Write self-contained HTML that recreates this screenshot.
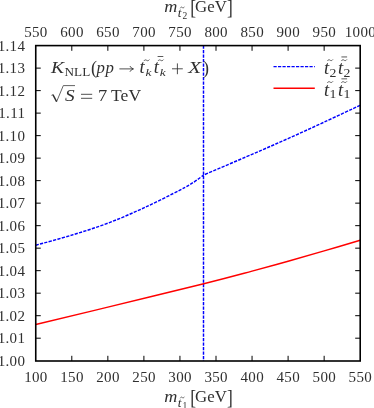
<!DOCTYPE html>
<html><head><meta charset="utf-8"><title>plot</title>
<style>
html,body{margin:0;padding:0;background:#fff;}
body{width:374px;height:408px;overflow:hidden;font-family:"Liberation Serif",serif;}
svg{display:block;will-change:transform;}
text{font-family:"Liberation Serif",serif;fill:#303030;}
.tk{font-size:15px;letter-spacing:0.35px;}
.it{font-style:italic;}
</style></head><body>
<svg width="374" height="408" viewBox="0 0 374 408">
<rect width="374" height="408" fill="#fff"/>

<path d="M71.80,361.0 v-5.2 M71.80,45.6 v5.2 M107.85,361.0 v-5.2 M107.85,45.6 v5.2 M143.90,361.0 v-5.2 M143.90,45.6 v5.2 M179.95,361.0 v-5.2 M179.95,45.6 v5.2 M216.00,361.0 v-5.2 M216.00,45.6 v5.2 M252.05,361.0 v-5.2 M252.05,45.6 v5.2 M288.10,361.0 v-5.2 M288.10,45.6 v5.2 M324.15,361.0 v-5.2 M324.15,45.6 v5.2 M35.75,338.19 h5 M360.2,338.19 h-5 M35.75,315.69 h5 M360.2,315.69 h-5 M35.75,293.18 h5 M360.2,293.18 h-5 M35.75,270.67 h5 M360.2,270.67 h-5 M35.75,248.16 h5 M360.2,248.16 h-5 M35.75,225.66 h5 M360.2,225.66 h-5 M35.75,203.15 h5 M360.2,203.15 h-5 M35.75,180.64 h5 M360.2,180.64 h-5 M35.75,158.14 h5 M360.2,158.14 h-5 M35.75,135.63 h5 M360.2,135.63 h-5 M35.75,113.12 h5 M360.2,113.12 h-5 M35.75,90.61 h5 M360.2,90.61 h-5 M35.75,68.11 h5 M360.2,68.11 h-5" stroke="#000" stroke-width="1" fill="none"/>
<path d="M35.75,245.24 C41.76,243.55 59.78,238.79 71.80,235.11 C83.82,231.43 95.83,227.72 107.85,223.18 C119.87,218.64 131.88,213.39 143.90,207.88 C155.92,202.36 171.54,194.45 179.95,190.10 C188.36,185.74 190.43,184.28 194.37,181.77 C198.31,179.25 202.06,176.14 203.60,175.02 C211.67,171.56 237.97,160.39 252.05,154.31 C266.13,148.23 276.08,143.92 288.10,138.55 C300.12,133.19 312.13,127.68 324.15,122.12 C336.17,116.57 354.19,108.06 360.20,105.24" stroke="#0000ff" stroke-width="1.45" fill="none" stroke-dasharray="3.2,1.3"/>
<path d="M203.5,45.6 V361.0" stroke="#0000ff" stroke-width="1.45" fill="none" stroke-dasharray="3.2,1.3"/>
<path d="M35.75,324.46 C47.77,321.58 79.85,313.92 107.85,307.13 C135.85,300.34 179.71,289.73 203.74,283.73 C227.78,277.72 237.99,274.87 252.05,271.12 C266.11,267.37 276.08,264.59 288.10,261.22 C300.12,257.84 312.13,254.35 324.15,250.87 C336.17,247.38 354.19,242.05 360.20,240.29" stroke="#ff0000" stroke-width="1.45" fill="none"/>
<rect x="35.75" y="45.6" width="324.45" height="315.40" fill="none" stroke="#000" stroke-width="1.6"/>
<text class="tk" x="35.95" y="381.7" text-anchor="middle">100</text>
<text class="tk" x="35.95" y="37.1" text-anchor="middle">550</text>
<text class="tk" x="72.00" y="381.7" text-anchor="middle">150</text>
<text class="tk" x="72.00" y="37.1" text-anchor="middle">600</text>
<text class="tk" x="108.05" y="381.7" text-anchor="middle">200</text>
<text class="tk" x="108.05" y="37.1" text-anchor="middle">650</text>
<text class="tk" x="144.10" y="381.7" text-anchor="middle">250</text>
<text class="tk" x="144.10" y="37.1" text-anchor="middle">700</text>
<text class="tk" x="180.15" y="381.7" text-anchor="middle">300</text>
<text class="tk" x="180.15" y="37.1" text-anchor="middle">750</text>
<text class="tk" x="216.20" y="381.7" text-anchor="middle">350</text>
<text class="tk" x="216.20" y="37.1" text-anchor="middle">800</text>
<text class="tk" x="252.25" y="381.7" text-anchor="middle">400</text>
<text class="tk" x="252.25" y="37.1" text-anchor="middle">850</text>
<text class="tk" x="288.30" y="381.7" text-anchor="middle">450</text>
<text class="tk" x="288.30" y="37.1" text-anchor="middle">900</text>
<text class="tk" x="324.35" y="381.7" text-anchor="middle">500</text>
<text class="tk" x="324.35" y="37.1" text-anchor="middle">950</text>
<text class="tk" x="360.40" y="381.7" text-anchor="middle">550</text>
<text class="tk" x="360.40" y="37.1" text-anchor="middle">1000</text>
<text class="tk" x="25.3" y="365.90" text-anchor="end">1.00</text>
<text class="tk" x="25.3" y="343.39" text-anchor="end">1.01</text>
<text class="tk" x="25.3" y="320.89" text-anchor="end">1.02</text>
<text class="tk" x="25.3" y="298.38" text-anchor="end">1.03</text>
<text class="tk" x="25.3" y="275.87" text-anchor="end">1.04</text>
<text class="tk" x="25.3" y="253.36" text-anchor="end">1.05</text>
<text class="tk" x="25.3" y="230.86" text-anchor="end">1.06</text>
<text class="tk" x="25.3" y="208.35" text-anchor="end">1.07</text>
<text class="tk" x="25.3" y="185.84" text-anchor="end">1.08</text>
<text class="tk" x="25.3" y="163.34" text-anchor="end">1.09</text>
<text class="tk" x="25.3" y="140.83" text-anchor="end">1.10</text>
<text class="tk" x="25.3" y="118.32" text-anchor="end">1.11</text>
<text class="tk" x="25.3" y="95.81" text-anchor="end">1.12</text>
<text class="tk" x="25.3" y="73.31" text-anchor="end">1.13</text>
<text class="tk" x="25.3" y="50.80" text-anchor="end">1.14</text>
<path d="M273.5,66.6 H314.8" stroke="#0000ff" stroke-width="1.45" stroke-dasharray="3.2,1.3"/>
<path d="M273.5,88.2 H314.8" stroke="#ff0000" stroke-width="1.45"/>
<text x="324.00" y="73.60" font-size="18.6" class="it" text-anchor="start" >t</text><path d="M327.50,60.62 C328.28,59.57 329.32,59.57 330.10,60.20 S331.92,60.83 332.70,59.78" fill="none" stroke="#303030" stroke-width="0.75" stroke-linecap="round"/><text transform="translate(329.60,76.50) scale(1.15,1)" font-size="12" text-anchor="start" >2</text>
<text x="338.00" y="73.60" font-size="18.6" class="it" text-anchor="start" >t</text><path d="M341.50,60.62 C342.28,59.57 343.32,59.57 344.10,60.20 S345.92,60.83 346.70,59.78" fill="none" stroke="#303030" stroke-width="0.75" stroke-linecap="round"/><path d="M341.40,56.95 h5.70" fill="none" stroke="#303030" stroke-width="0.8"/><text transform="translate(343.60,76.50) scale(1.15,1)" font-size="12" text-anchor="start" >2</text>
<text x="324.00" y="95.50" font-size="18.6" class="it" text-anchor="start" >t</text><path d="M327.50,82.52 C328.28,81.47 329.32,81.47 330.10,82.10 S331.92,82.73 332.70,81.68" fill="none" stroke="#303030" stroke-width="0.75" stroke-linecap="round"/><text transform="translate(329.60,98.40) scale(1.15,1)" font-size="12" text-anchor="start" >1</text>
<text x="338.00" y="95.50" font-size="18.6" class="it" text-anchor="start" >t</text><path d="M341.50,82.52 C342.28,81.47 343.32,81.47 344.10,82.10 S345.92,82.73 346.70,81.68" fill="none" stroke="#303030" stroke-width="0.75" stroke-linecap="round"/><path d="M341.40,78.85 h5.70" fill="none" stroke="#303030" stroke-width="0.8"/><text transform="translate(343.60,98.40) scale(1.15,1)" font-size="12" text-anchor="start" >1</text>
<text transform="translate(50.90,72.70) scale(1.16,1)" font-size="16.8" class="it" text-anchor="start" >K</text>
<text x="64.60" y="76.00" font-size="13.2" text-anchor="start" >NLL</text>
<text x="90.90" y="73.60" font-size="18" text-anchor="start" >(</text>
<text x="96.50" y="72.70" font-size="16.8" class="it" text-anchor="start" letter-spacing="0.7">pp</text>
<path d="M119.40,68.90 H133.10" fill="none" stroke="#303030" stroke-width="0.85"/><path d="M130.10,66.40 Q131.10,68.40 133.50,68.90 Q131.10,69.40 130.10,71.40" fill="none" stroke="#303030" stroke-width="0.85" stroke-linecap="round"/>
<text x="139.60" y="72.80" font-size="18.6" class="it" text-anchor="start" >t</text><path d="M144.00,60.72 C144.78,59.67 145.82,59.67 146.60,60.30 S148.42,60.93 149.20,59.88" fill="none" stroke="#303030" stroke-width="0.75" stroke-linecap="round"/><text transform="translate(145.60,76.00) scale(1.25,1)" font-size="10.8" class="it" text-anchor="start" >k</text>
<text x="153.70" y="72.80" font-size="18.6" class="it" text-anchor="start" >t</text><path d="M158.10,60.72 C158.88,59.67 159.92,59.67 160.70,60.30 S162.52,60.93 163.30,59.88" fill="none" stroke="#303030" stroke-width="0.75" stroke-linecap="round"/><path d="M157.60,56.50 h5.70" fill="none" stroke="#303030" stroke-width="0.8"/><text transform="translate(159.70,76.00) scale(1.25,1)" font-size="10.8" class="it" text-anchor="start" >k</text>
<path d="M172.00,68.80 h10.80 M177.40,63.40 v10.80" fill="none" stroke="#303030" stroke-width="0.85"/>
<text transform="translate(188.20,72.70) scale(1.25,1)" font-size="16.8" class="it" text-anchor="start" >X</text>
<text x="203.00" y="73.60" font-size="18" text-anchor="start" >)</text>
<path d="M51.4,95.4 l1.5,-0.8" fill="none" stroke="#303030" stroke-width="0.7"/>
<path d="M52.9,94.6 L56.6,101.6" fill="none" stroke="#303030" stroke-width="1.4"/>
<path d="M56.5,101.9 L63.3,85.6 H75.0" fill="none" stroke="#303030" stroke-width="0.75"/>
<text transform="translate(64.90,100.50) scale(1.15,1)" font-size="16.8" class="it" text-anchor="start" >S</text>
<path d="M81.00,94.30 H92.20 M81.00,98.30 H92.20" fill="none" stroke="#303030" stroke-width="0.85"/>
<text transform="translate(98.00,100.50) scale(1.1,1)" font-size="16.8" text-anchor="start" >7</text>
<text transform="translate(111.10,100.50) scale(1.045,1)" font-size="16.8" text-anchor="start" >TeV</text>
<text transform="translate(164.30,12.30) scale(1.08,1)" font-size="16.8" class="it" text-anchor="start" >m</text><text x="177.70" y="16.90" font-size="13.2" class="it" text-anchor="start" >t</text><path d="M180.40,7.92 C180.97,6.87 181.73,6.87 182.30,7.50 S183.63,8.13 184.20,7.08" fill="none" stroke="#303030" stroke-width="0.7" stroke-linecap="round"/><text x="182.60" y="18.50" font-size="9.5" text-anchor="start" >2</text><text transform="translate(190.20,14.20) scale(0.85,1)" font-size="20.5" text-anchor="start" >[</text><text x="195.00" y="12.30" font-size="16.8" text-anchor="start" letter-spacing="0.1">GeV</text><text transform="translate(227.00,14.20) scale(0.85,1)" font-size="20.5" text-anchor="start" >]</text>
<text transform="translate(164.30,402.30) scale(1.08,1)" font-size="16.8" class="it" text-anchor="start" >m</text><text x="177.70" y="406.90" font-size="13.2" class="it" text-anchor="start" >t</text><path d="M180.40,397.92 C180.97,396.87 181.73,396.87 182.30,397.50 S183.63,398.13 184.20,397.08" fill="none" stroke="#303030" stroke-width="0.7" stroke-linecap="round"/><text x="182.60" y="408.50" font-size="9.5" text-anchor="start" >1</text><text transform="translate(190.20,404.20) scale(0.85,1)" font-size="20.5" text-anchor="start" >[</text><text x="195.00" y="402.30" font-size="16.8" text-anchor="start" letter-spacing="0.1">GeV</text><text transform="translate(227.00,404.20) scale(0.85,1)" font-size="20.5" text-anchor="start" >]</text>
</svg></body></html>
